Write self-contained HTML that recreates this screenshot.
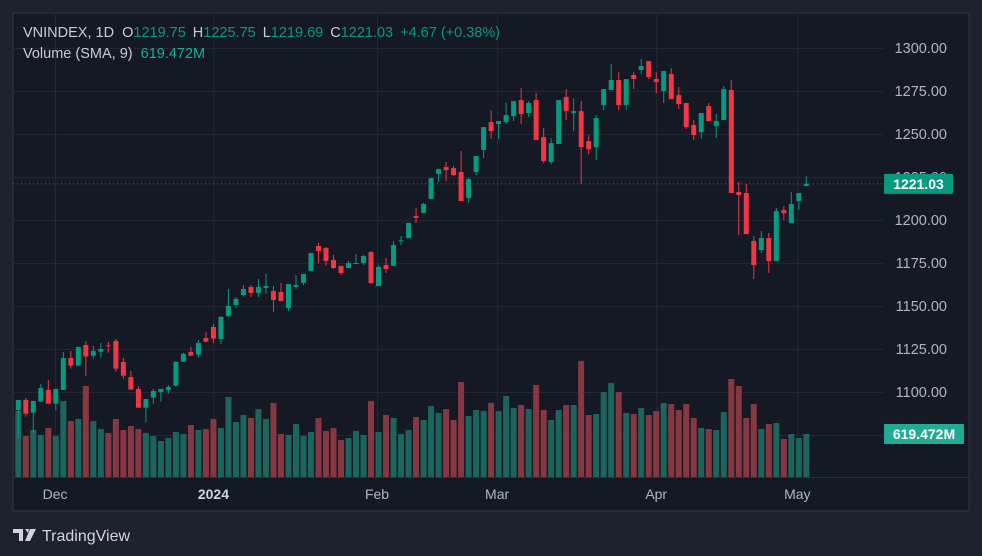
<!DOCTYPE html>
<html><head><meta charset="utf-8"><style>
html,body{margin:0;padding:0;background:#1e222d;}
body{width:982px;height:556px;overflow:hidden;position:relative;font-family:"Liberation Sans",sans-serif;}
svg{position:absolute;left:0;top:0;}
</style></head><body>
<svg id="chart" width="982" height="556" viewBox="0 0 982 556" xmlns="http://www.w3.org/2000/svg">
  <rect x="0" y="0" width="982" height="556" fill="#1e222d"/>
  <rect x="13" y="13" width="956" height="498" fill="#151924" stroke="#2a2e39" stroke-width="1.5"/>
  <g id="grid"></g>
  <line x1="13" y1="477.5" x2="969" y2="477.5" stroke="#2a2e39" stroke-width="1"/>
  <g id="volumes"></g>
  <g id="candles"></g>
  <g id="yaxis"></g>
  <g id="xaxis"></g>
  <g font-size="14.5" font-family="Liberation Sans, sans-serif">
    <text x="23" y="37" fill="#c9ccd4">VNINDEX, 1D <tspan dx="4">O</tspan><tspan fill="#089981">1219.75</tspan><tspan dx="7">H</tspan><tspan fill="#089981">1225.75</tspan><tspan dx="7">L</tspan><tspan fill="#089981">1219.69</tspan><tspan dx="7">C</tspan><tspan fill="#089981">1221.03</tspan><tspan dx="7" fill="#089981">+4.67 (+0.38%)</tspan></text>
    <text x="23" y="58" fill="#c9ccd4">Volume (SMA, 9) <tspan dx="4" fill="#22ab94">619.472M</tspan></text>
  </g>
  <g>
    <path d="M13 529h10v12h-4v-8h-6z M25 529h4l-1 4z M30 529h6l-6 12h-5z" fill="#d1d4dc"/>
    <text x="42" y="541" fill="#d1d4dc" font-size="16">TradingView</text>
  </g>
</svg>
<script>
const opens=[1089.5,1095.4,1088,1094.4,1101.2,1093.2,1101.2,1119.8,1115.3,1127.3,1121.1,1123.4,1127.2,1129.7,1117.5,1108.7,1101.8,1090.9,1096.7,1100,1101.2,1103.7,1117.6,1123.3,1121.7,1131.4,1137.8,1130.8,1144.2,
1150.6,1156.4,1161.1,1157.6,1160.5,1158.7,1158.1,1148.8,1161.1,1163.4,1170.4,1184.9,1183.7,1176.7,1173.3,1172.1,1174.6,1175,1181.4,1161.6,1173.8,1173.3,1187.8,1189.5,1202.3,1204.1,1212.2,1226.7,
1230.8,1230.2,1227.9,1212.8,1227.9,1240.7,1256.9,1255.8,1256.9,1260.4,1269.7,1262.2,1269.7,1248.2,1233.7,1244.2,1271.5,1262.2,1263.3,1245.9,1242.4,1266.8,1275.6,1281.4,1266.8,1284.3,1287.2,1292.4,1282,
1275,1284.9,1272.6,1268,1255.2,1251.1,1266.2,1254.6,1258.1,1275.6,1216.3,1215.7,1187.8,1182.5,1189.5,1176.1,1205.8,1198.2,1211,1219.75];
const highs=[1095.4,1096.5,1094.8,1104.7,1107,1101.8,1123.3,1123.9,1126.2,1129.7,1126.8,1128.5,1129.1,1130.8,1119.8,1112.2,1103.5,1095.9,1101.8,1101.8,1104.1,1118,1122.7,1126.2,1130.3,1134.9,1139.4,1144.2,1159.9,
1155.2,1162.2,1162.2,1165.7,1168.6,1161.6,1163.4,1162.8,1168,1168.6,1180.8,1186.6,1184.3,1179.7,1173.3,1176.2,1180.2,1179.7,1182,1173.8,1177.9,1187.8,1190.7,1198.3,1207,1209.9,1224.4,1229.7,
1233.7,1231.4,1240.1,1224.6,1237.2,1254,1263.9,1257.5,1268,1269.1,1276.7,1269.2,1273.8,1253.5,1247.6,1269.7,1276.1,1270.9,1269.2,1249.4,1261,1276.1,1290.7,1286,1281.9,1286,1293.6,1292.4,1286,
1286.6,1288.3,1277.3,1268,1258.1,1262.2,1268,1261.6,1277.9,1281.4,1222.1,1220.9,1190.7,1193.6,1192.4,1206.9,1208.1,1216.2,1215.7,1225.75];
const lows=[1073.1,1085.7,1076.4,1094.4,1093.2,1089.5,1101.2,1113.6,1115.3,1109.5,1119.4,1120,1122.9,1111.8,1107.8,1101.4,1090.9,1082.2,1093.2,1094.4,1099,1103,1117.6,1121,1120,1129,1128.5,1127.9,1143.6,
1149,1155.4,1155.2,1155.2,1157,1146.5,1152.9,1147.1,1159.9,1162.2,1170.4,1175,1173.3,1171.5,1168,1172.1,1174.6,1173.8,1162.8,1161.6,1169.2,1173.3,1185.5,1189.5,1198.3,1204.1,1212.2,1222.1,
1222.6,1225.6,1211,1209.9,1226.1,1236,1247.1,1247.1,1255.8,1257.5,1255.8,1259.9,1246.5,1233.1,1232.5,1244.2,1258.1,1251.7,1220.9,1238.3,1234.9,1263.9,1275.6,1263.9,1263.9,1276.1,1284.9,1281.9,1273.8,
1268,1270.3,1264.5,1252.9,1246.5,1247.1,1257.5,1247.6,1258.1,1215.7,1191.2,1191.8,1165.7,1180.8,1169.2,1176.1,1200,1198.2,1205.8,1219.69];
const closes=[1095.4,1087.4,1094.8,1102.3,1093.2,1101.8,1119.8,1115.3,1126.2,1120.6,1123.9,1125,1127,1113.6,1109.5,1101.4,1090.9,1095.9,1100.6,1101.8,1102.9,1117.5,1122.1,1121.1,1128.5,1129.3,1131,1143.6,1150,
1154.1,1159.9,1157.6,1161.1,1161.6,1153.5,1152.9,1162.8,1162.2,1168.6,1180.8,1182,1176.2,1172.1,1169.2,1175,1175,1179.1,1163.4,1172.7,1171.5,1185.5,1188.2,1198.3,1201.2,1209.3,1224.4,1229.7,
1229,1226.1,1211,1223.8,1237.2,1254,1251.7,1257.5,1261,1269.1,1261.6,1268,1246.5,1234.3,1244.7,1269.7,1263.3,1263.3,1242.4,1241.2,1259.3,1276.1,1281.4,1266.8,1281.9,1282,1289.5,1283.1,1280.2,
1286.6,1270.3,1267.4,1254,1249.4,1262.2,1257.5,1257.5,1276.1,1215.7,1214.5,1191.8,1173.8,1189.5,1176.1,1205.2,1204,1209.3,1215.7,1221.03];
const volumes=[950,590,677,605,706,590,1094,806,835,1310,806,691,634,835,677,734,691,634,590,518,562,648,619,749,677,691,835,706,1152,
792,893,850,979,835,1066,619,605,763,590,648,850,662,706,533,562,662,605,1094,648,893,850,619,677,864,821,1022,922,979,
821,1368,878,965,950,1066,950,1166,994,1037,979,1325,965,821,965,1037,1037,1670,893,907,1224,1354,1224,922,907,994,893,950,
1066,1051,965,1051,850,706,691,677,936,1411,1310,850,1051,691,763,778,547,619,562,619.472];
const priceTicks=[1300,1275,1250,1225,1200,1175,1150,1125,1100,1075];
const priceTickLabels=["1300.00","1275.00","1250.00","1225.00","1200.00","1175.00","1150.00","1125.00","1100.00",""];
const timeTickIndex=[4.9,26,47.8,63.8,85,103.8];
const timeTickLabels=["Dec","2024","Feb","Mar","Apr","May"];
const lastPrice=1221.03;
const lastVolume=619.472;

const NS="http://www.w3.org/2000/svg";
const X0=18.3, DX=7.505, PLOT_R=883;
function xScale(i){return X0+i*DX;}
function yScale(p){return 48+(1300-p)*1.72;}
function vScale(v){return 477-v/14.4;}
function mk(tag,attrs,parent){const e=document.createElementNS(NS,tag);for(const k in attrs)e.setAttribute(k,attrs[k]);parent.appendChild(e);return e;}

const grid=document.getElementById('grid');
priceTicks.forEach(p=>{
  const l=mk('line',{x1:13,x2:PLOT_R,y1:yScale(p)+0.5,y2:yScale(p)+0.5,stroke:'#232733','stroke-width':1},grid);
  
  
});
timeTickIndex.forEach(t=>{
  const l=mk('line',{x1:xScale(t)+0.5,x2:xScale(t)+0.5,y1:13,y2:477,stroke:'#232733','stroke-width':1},grid);
  
  
});

const vg=document.getElementById('volumes');
volumes.forEach((v,i)=>{
  const up=closes[i]>=opens[i];
  const y=vScale(v);
  const r=mk('rect',{x:xScale(i)-3,y:y,width:6,height:477-y,fill:up?'#1d655c':'#863742'},vg);
  
  
});

const cg=document.getElementById('candles');
opens.forEach((o,i)=>{
  const c=closes[i], up=c>=o, col=up?'#089981':'#f23645';
  const x=xScale(i);
  const w=mk('line',{x1:x,x2:x,y1:yScale(highs[i]),y2:yScale(lows[i]),stroke:col,'stroke-width':1},cg);
  
  
  const top=yScale(Math.max(o,c)), bot=yScale(Math.min(o,c));
  const b=mk('rect',{x:x-2.5,y:top,width:5,height:Math.max(1,bot-top),fill:col},cg);
  
  
});

const lp=mk('line',{x1:13,x2:PLOT_R,y1:yScale(lastPrice),y2:yScale(lastPrice),stroke:'#089981','stroke-width':1,'stroke-dasharray':'1 3'},cg);



const ya=document.getElementById('yaxis');
priceTicks.forEach((p,i)=>{
  const t=mk('text',{x:947,y:yScale(p)+5,'text-anchor':'end',fill:'#b2b5be','font-size':'14.5'},ya);
  t.textContent=priceTickLabels[i];
  
  
});
const ly=yScale(lastPrice);
const lt=mk('rect',{x:884,y:ly-10,width:69,height:20,fill:'#089981',rx:1},ya);


const ltt=mk('text',{x:918.5,y:ly+5,'text-anchor':'middle',fill:'#ffffff','font-size':'14','font-weight':'bold'},ya);
ltt.textContent=lastPrice.toFixed(2);


const vy=vScale(lastVolume);
const vt=mk('rect',{x:884,y:vy-10,width:80,height:20,fill:'#22ab94',rx:1},ya);


const vtt=mk('text',{x:924,y:vy+5,'text-anchor':'middle',fill:'#ffffff','font-size':'14','font-weight':'bold'},ya);
vtt.textContent=lastVolume.toFixed(3)+'M';



const xa=document.getElementById('xaxis');
timeTickIndex.forEach((t,i)=>{
  const tx=mk('text',{x:xScale(t),y:499,'text-anchor':'middle',fill:i===1?'#d1d4dc':'#b2b5be','font-size':'14','font-weight':i===1?'bold':'normal'},xa);
  tx.textContent=timeTickLabels[i];
  
  
});
</script>
</body></html>
